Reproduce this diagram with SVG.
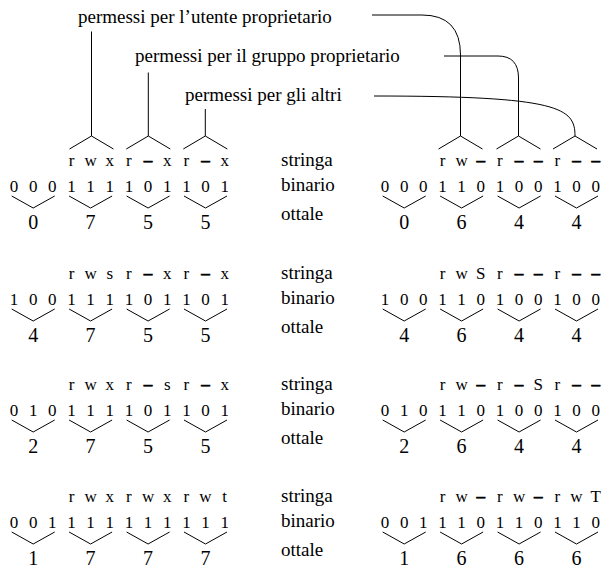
<svg xmlns="http://www.w3.org/2000/svg" width="603" height="570" viewBox="0 0 603 570">
<style>
text { font-family: "Liberation Serif", "Times New Roman", serif; fill: #000; text-anchor: middle; }
.lab { font-size: 19px; text-anchor: start; }
.s { font-size: 17px; }
.d { font-weight: bold; stroke: #000; stroke-width: 0.7; }
.b { font-size: 17px; }
.o { font-size: 20px; }
.c path, #vb, #vt { fill: none; stroke: #000; stroke-width: 1; }
</style>
<defs>
<polyline id="vb" points="-21.5,0 0,12 21.5,0"/>
<polyline id="vt" points="-22,13 0,0 22,13"/>
</defs>

<g id="labels">
<text class="lab" x="78" y="23">permessi per l’utente proprietario</text>
<text class="lab" x="135" y="62">permessi per il gruppo proprietario</text>
<text class="lab" x="185" y="101">permessi per gli altri</text>
</g>

<g id="block1-left">
<text class="s" x="71.5 90.6 109.8 128.9" y="166">rwxr<tspan class="d" x="148.1">–</tspan><tspan x="167.2 186.4">xr</tspan><tspan class="d" x="205.5">–</tspan><tspan x="224.7">x</tspan></text>
<text class="b" x="14 33.2 52.3 71.5 90.6 109.8 128.9 148.1 167.2 186.4 205.5 224.7" y="192">000111101101</text>
<text class="o" x="33.2 90.6 148.1 205.5" y="229">0755</text>
</g>
<g id="block1-labels">
<text class="lab" x="281" y="166">stringa</text>
<text class="lab" x="281" y="191">binario</text>
<text class="lab" x="281" y="220">ottale</text>
</g>
<g id="block1-right">
<text class="s" x="442.5 461.6" y="166">rw<tspan class="d" x="480.8">–</tspan><tspan x="499.9">r</tspan><tspan class="d" x="519.1 538.2">––</tspan><tspan x="557.4">r</tspan><tspan class="d" x="576.5 595.7">––</tspan></text>
<text class="b" x="385 404.2 423.3 442.5 461.6 480.8 499.9 519.1 538.2 557.4 576.5 595.7" y="192">000110100100</text>
<text class="o" x="404.2 461.6 519.1 576.5" y="229">0644</text>
</g>

<g id="block2-left">
<text class="s" x="71.5 90.6 109.8 128.9" y="279">rwsr<tspan class="d" x="148.1">–</tspan><tspan x="167.2 186.4">xr</tspan><tspan class="d" x="205.5">–</tspan><tspan x="224.7">x</tspan></text>
<text class="b" x="14 33.2 52.3 71.5 90.6 109.8 128.9 148.1 167.2 186.4 205.5 224.7" y="305">100111101101</text>
<text class="o" x="33.2 90.6 148.1 205.5" y="342">4755</text>
</g>
<g id="block2-labels">
<text class="lab" x="281" y="279">stringa</text>
<text class="lab" x="281" y="304">binario</text>
<text class="lab" x="281" y="333">ottale</text>
</g>
<g id="block2-right">
<text class="s" x="442.5 461.6 480.8 499.9" y="279">rwSr<tspan class="d" x="519.1 538.2">––</tspan><tspan x="557.4">r</tspan><tspan class="d" x="576.5 595.7">––</tspan></text>
<text class="b" x="385 404.2 423.3 442.5 461.6 480.8 499.9 519.1 538.2 557.4 576.5 595.7" y="305">100110100100</text>
<text class="o" x="404.2 461.6 519.1 576.5" y="342">4644</text>
</g>

<g id="block3-left">
<text class="s" x="71.5 90.6 109.8 128.9" y="390">rwxr<tspan class="d" x="148.1">–</tspan><tspan x="167.2 186.4">sr</tspan><tspan class="d" x="205.5">–</tspan><tspan x="224.7">x</tspan></text>
<text class="b" x="14 33.2 52.3 71.5 90.6 109.8 128.9 148.1 167.2 186.4 205.5 224.7" y="416">010111101101</text>
<text class="o" x="33.2 90.6 148.1 205.5" y="453">2755</text>
</g>
<g id="block3-labels">
<text class="lab" x="281" y="390">stringa</text>
<text class="lab" x="281" y="415">binario</text>
<text class="lab" x="281" y="444">ottale</text>
</g>
<g id="block3-right">
<text class="s" x="442.5 461.6" y="390">rw<tspan class="d" x="480.8">–</tspan><tspan x="499.9">r</tspan><tspan class="d" x="519.1">–</tspan><tspan x="538.2 557.4">Sr</tspan><tspan class="d" x="576.5 595.7">––</tspan></text>
<text class="b" x="385 404.2 423.3 442.5 461.6 480.8 499.9 519.1 538.2 557.4 576.5 595.7" y="416">010110100100</text>
<text class="o" x="404.2 461.6 519.1 576.5" y="453">2644</text>
</g>

<g id="block4-left">
<text class="s" x="71.5 90.6 109.8 128.9 148.1 167.2 186.4 205.5 224.7" y="502">rwxrwxrwt</text>
<text class="b" x="14 33.2 52.3 71.5 90.6 109.8 128.9 148.1 167.2 186.4 205.5 224.7" y="528">001111111111</text>
<text class="o" x="33.2 90.6 148.1 205.5" y="565">1777</text>
</g>
<g id="block4-labels">
<text class="lab" x="281" y="502">stringa</text>
<text class="lab" x="281" y="527">binario</text>
<text class="lab" x="281" y="556">ottale</text>
</g>
<g id="block4-right">
<text class="s" x="442.5 461.6" y="502">rw<tspan class="d" x="480.8">–</tspan><tspan x="499.9 519.1">rw</tspan><tspan class="d" x="538.2">–</tspan><tspan x="557.4 576.5 595.7">rwT</tspan></text>
<text class="b" x="385 404.2 423.3 442.5 461.6 480.8 499.9 519.1 538.2 557.4 576.5 595.7" y="528">001110110110</text>
<text class="o" x="404.2 461.6 519.1 576.5" y="565">1666</text>
</g>

<g id="connectors" class="c">
<path d="M91.5,31.5 V136 M148.3,72.5 V136 M205.3,109 V136"/>
<path d="M372,15 L422,15 Q460.5,15 460.5,55 L460.5,136"/>
<path d="M444,56 L498,56 Q518.5,56 518.5,78 L518.5,136"/>
<path d="M374,96 C560,96 575,108 575,136"/>
<use href="#vt" x="91.5" y="136"/>
<use href="#vt" x="148.3" y="136"/>
<use href="#vt" x="205.3" y="136"/>
<use href="#vt" x="460.5" y="136"/>
<use href="#vt" x="518.5" y="136"/>
<use href="#vt" x="575" y="136"/>
<use href="#vb" x="33.2" y="196"/><use href="#vb" x="90.6" y="196"/><use href="#vb" x="148.1" y="196"/><use href="#vb" x="205.5" y="196"/>
<use href="#vb" x="404.2" y="196"/><use href="#vb" x="461.6" y="196"/><use href="#vb" x="519.1" y="196"/><use href="#vb" x="576.5" y="196"/>
<use href="#vb" x="33.2" y="309"/><use href="#vb" x="90.6" y="309"/><use href="#vb" x="148.1" y="309"/><use href="#vb" x="205.5" y="309"/>
<use href="#vb" x="404.2" y="309"/><use href="#vb" x="461.6" y="309"/><use href="#vb" x="519.1" y="309"/><use href="#vb" x="576.5" y="309"/>
<use href="#vb" x="33.2" y="420"/><use href="#vb" x="90.6" y="420"/><use href="#vb" x="148.1" y="420"/><use href="#vb" x="205.5" y="420"/>
<use href="#vb" x="404.2" y="420"/><use href="#vb" x="461.6" y="420"/><use href="#vb" x="519.1" y="420"/><use href="#vb" x="576.5" y="420"/>
<use href="#vb" x="33.2" y="532"/><use href="#vb" x="90.6" y="532"/><use href="#vb" x="148.1" y="532"/><use href="#vb" x="205.5" y="532"/>
<use href="#vb" x="404.2" y="532"/><use href="#vb" x="461.6" y="532"/><use href="#vb" x="519.1" y="532"/><use href="#vb" x="576.5" y="532"/>
</g>
</svg>
